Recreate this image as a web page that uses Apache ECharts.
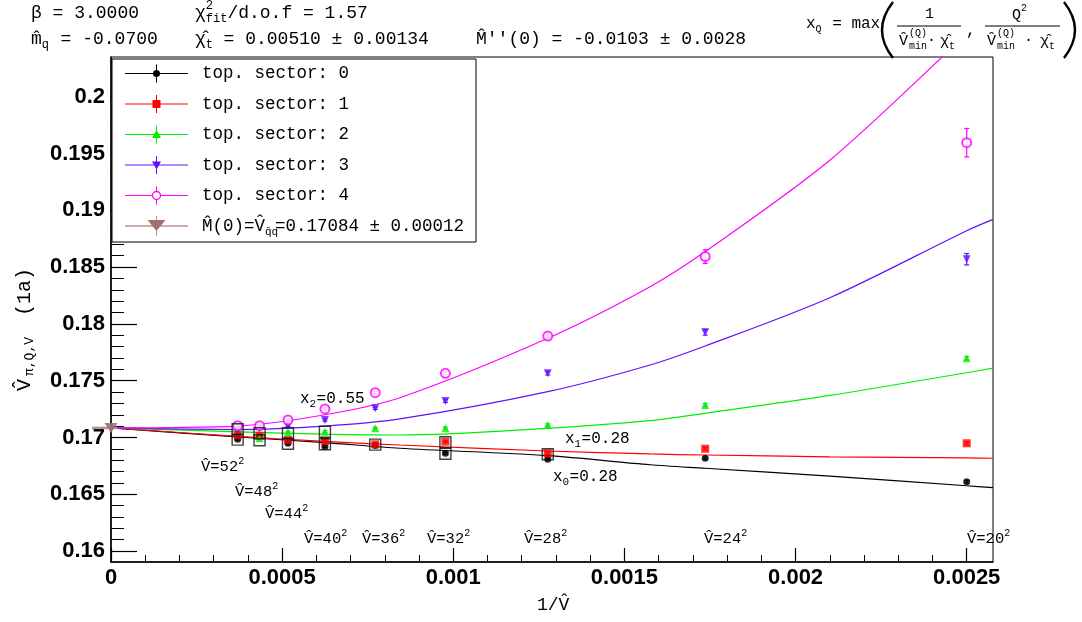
<!DOCTYPE html>
<html>
<head>
<meta charset="utf-8">
<script src="https://cdn.jsdelivr.net/npm/echarts@6/dist/echarts.min.js"></script>
<style>
  html, body { margin: 0; padding: 0; background: #fff; }
  #chart { width: 1082px; height: 622px; }
</style>
</head>
<body>
<div id="chart"></div>
<script>
// lattice volumes V = L^2 and the x positions 1/V
const volumes = [52, 48, 44, 40, 36, 32, 28, 24, 20]
const invV = [0.000370, 0.000434, 0.000517, 0.000625, 0.000772, 0.000977, 0.001276, 0.001736, 0.0025]

// measured points per topological sector
const sector0 = [0.16984, 0.17007, 0.16949, 0.16919, 0.16930, 0.16861, 0.16808, 0.16817, 0.16611]
const sector1 = [0.17022, 0.17016, 0.16978, 0.16969, 0.16940, 0.16963, 0.16861, 0.16901, 0.16949]
const sector2 = [0.17090, 0.16993, 0.17046, 0.17051, 0.17081, 0.17081, 0.17110, 0.17286, 0.17697]
const sector3 = [0.17066, 0.17081, 0.17104, 0.17154, 0.17257, 0.17321, 0.17565, 0.17926, 0.18569]
const sector4 = [0.17104, 0.17104, 0.17154, 0.17251, 0.17394, 0.17565, 0.17893, 0.18592, 0.19595]

const err0 = [0.00008, 0.00008, 0.00008, 0.00008, 0.00008, 0.00008, 0.0001, 0.0001, 0.00012]
const err1 = [0.00008, 0.00008, 0.00008, 0.00008, 0.00008, 0.00008, 0.0001, 0.0001, 0.00012]
const err2 = [0.00008, 0.00008, 0.00008, 0.00008, 0.00008, 0.0001, 0.0001, 0.00012, 0.00015]
const err3 = [0.00008, 0.00008, 0.00008, 0.0001, 0.0001, 0.00012, 0.00015, 0.00025, 0.0005]
const err4 = [0.0001, 0.0001, 0.0001, 0.0001, 0.00012, 0.00015, 0.0002, 0.0006, 0.00125]

// infinite volume extrapolation M(0)
const m0 = 0.17084
const m0Err = 0.00012

// fit curves read along x
const fitX = [0, 0.00037, 0.000625, 0.000844, 0.001276, 0.001575, 0.001736, 0.0021, 0.0025, 0.002577]
const fit0 = [0.17084, 0.17005, 0.16955, 0.16905, 0.16840, 0.16760, 0.16729, 0.16660, 0.16575, 0.16558]
const fit1 = [0.17084, 0.17010, 0.16965, 0.16934, 0.16881, 0.16855, 0.16846, 0.16830, 0.16820, 0.16817]
const fit2 = [0.17084, 0.17050, 0.17030, 0.17022, 0.17081, 0.17148, 0.17213, 0.17370, 0.17570, 0.17610]
const fit3 = [0.17084, 0.17070, 0.17100, 0.17163, 0.17403, 0.17638, 0.17805, 0.18230, 0.18820, 0.18920]
const fit4 = [0.17084, 0.17100, 0.17200, 0.17350, 0.17873, 0.18327, 0.18636, 0.19440, 0.20550, 0.20750]

// points used in the fits (black boxes)
const boxX = [0.00037, 0.00037, 0.000434, 0.000434, 0.000517, 0.000517, 0.000625, 0.000625, 0.000772, 0.000977, 0.000977, 0.001276]
const boxY = [0.17073, 0.16981, 0.17037, 0.16975, 0.17037, 0.16945, 0.17050, 0.16940, 0.16937, 0.16958, 0.16857, 0.16852]

const xTicks = [0, 0.0005, 0.001, 0.0015, 0.002, 0.0025]
const yTicks = [0.16, 0.165, 0.17, 0.175, 0.18, 0.185, 0.19, 0.195, 0.2]
const xMinor = []
for (let k = 1; k <= 25; k++) xMinor.push(+(k * 0.0001).toFixed(4))
const yMinor = []
for (let k = 160; k <= 203; k++) yMinor.push(k / 1000)

const C0 = '#000000', C1 = '#ff0000', C2 = '#00ee00', C3 = '#6010ff', C4 = '#ff00ff', CB = '#a07070'
const MONO = '"Liberation Mono", "DejaVu Sans Mono", monospace'
const SANS = '"Liberation Sans", Arial, sans-serif'

// text pieces laid out one after the other (monospace advance)
function runs (x, y, parts) {
  const out = []
  let cx = x
  parts.forEach(p => {
    const [t, size, dy = 0, adv] = p
    out.push({
      type: 'text', x: cx, y: y + dy, z: 100,
      style: { text: t, fontFamily: MONO, fontSize: size, fill: '#000', verticalAlign: 'middle' }
    })
    const n = t.replace(/[\u0300-\u036f]/g, '').length
    cx += n * (adv === undefined ? size * 0.6 : adv)
  })
  return out
}

function hline (x1, x2, y, color, w) {
  return { type: 'line', z: 100, shape: { x1, y1: y, x2, y2: y }, style: { stroke: color, lineWidth: w || 1 } }
}
function vline (x, y1, y2, color, w) {
  return { type: 'line', z: 100, shape: { x1: x, y1, x2: x, y2 }, style: { stroke: color, lineWidth: w || 1 } }
}
function paren (x, dir) {
  // big bracket of the max( , ) formula
  return {
    type: 'bezierCurve', z: 100,
    shape: { x1: x, y1: 2, x2: x, y2: 58, cpx1: x - dir * 22, cpy1: 30 },
    style: { stroke: '#000', lineWidth: 2.4, fill: null }
  }
}

// legend drawn by hand, ROOT style
const legRows = [73.5, 104, 134.5, 165, 195.5, 226]
const legX1 = 125, legX2 = 188, legM = 156.5
function legMarker (kind, cy, color) {
  const cx = legM
  if (kind === 'circle') return { type: 'circle', z: 101, shape: { cx, cy, r: 3.5 }, style: { fill: color } }
  if (kind === 'rect') return { type: 'rect', z: 101, shape: { x: cx - 4, y: cy - 4, width: 8, height: 8 }, style: { fill: color } }
  if (kind === 'up') return { type: 'polygon', z: 101, shape: { points: [[cx, cy - 4.5], [cx - 4.5, cy + 3.5], [cx + 4.5, cy + 3.5]] }, style: { fill: color } }
  if (kind === 'down') return { type: 'polygon', z: 101, shape: { points: [[cx - 4.5, cy - 3.5], [cx + 4.5, cy - 3.5], [cx, cy + 4.5]] }, style: { fill: color } }
  if (kind === 'open') return { type: 'circle', z: 101, shape: { cx, cy, r: 4 }, style: { fill: '#fff', stroke: color, lineWidth: 1.3 } }
  return { type: 'polygon', z: 101, shape: { points: [[cx - 9, cy - 6], [cx + 9, cy - 6], [cx, cy + 5]] }, style: { fill: CB } }
}
const legendEls = [{ type: 'rect', z: 99, shape: { x: 112, y: 59, width: 364, height: 183 }, style: { fill: '#fff', stroke: '#000', lineWidth: 1 } }]
const legDefs = [[C0, 'circle', '0'], [C1, 'rect', '1'], [C2, 'up', '2'], [C3, 'down', '3'], [C4, 'open', '4']]
legDefs.forEach((d, i) => {
  const y = legRows[i]
  legendEls.push(hline(legX1, legX2, y, d[0]), vline(legM, y - 9, y + 9, d[0]), legMarker(d[1], y, d[0]))
  legendEls.push(...runs(202, y, [['top. sector: ' + d[2], 17.5]]))
})
legendEls.push(hline(legX1, legX2, legRows[5], '#b89090', 1.5), vline(legM, legRows[5] - 10, legRows[5] + 10, '#b89090'), legMarker('brown', legRows[5]))
legendEls.push(...runs(202, legRows[5], [['M\u0302(0)=V\u0302', 17.5], ['q\u0304q', 11, 6, 5], ['=0.17084 \u00b1 0.00012', 17.5]]))

// header texts
const header = [
  ...runs(31, 13, [['\u03b2 = 3.0000', 18]]),
  ...runs(31, 39, [['m\u0302', 18], ['q', 12, 6, 8], [' = -0.0700', 18]]),
  ...runs(195, 13, [['\u03c7', 18], ['2', 12, -7, 0], ['fit', 12, 6, 7.2], ['/d.o.f = 1.57', 18]]),
  ...runs(195, 39, [['\u03c7\u0302', 18], ['t', 12, 6, 7], [' = 0.00510 \u00b1 0.00134', 18]]),
  ...runs(476, 39, [['M\u0302\'\'(0) = -0.0103 \u00b1 0.0028', 18]]),
  // x_Q = max( ... )
  ...runs(806, 24, [['x', 16], ['Q', 10, 5, 7], [' = max', 16]]),
  paren(893, 1),
  paren(1064, -1),
  hline(897, 961, 26, '#000', 1.2),
  ...runs(925, 14, [['1', 15]]),
  ...runs(899, 41, [['V\u0302', 15]]),
  ...runs(909, 33, [['(Q)', 10]]),
  ...runs(909, 46, [['min', 10]]),
  ...runs(927, 40, [['\u00b7', 15]]),
  ...runs(940, 41, [['\u03c7\u0302', 15], ['t', 10, 5]]),
  ...runs(966, 31, [[',', 16]]),
  hline(985, 1060, 26, '#000', 1.2),
  ...runs(1012, 15, [['Q', 15], ['2', 10, -7]]),
  ...runs(987, 41, [['V\u0302', 15]]),
  ...runs(997, 33, [['(Q)', 10]]),
  ...runs(997, 46, [['min', 10]]),
  ...runs(1024, 40, [['\u00b7', 15]]),
  ...runs(1040, 41, [['\u03c7\u0302', 15], ['t', 10, 5]])
]

// volume labels and x_Q annotations inside the plot
const volPos = [[201, 467], [235, 492], [265, 514], [304, 539], [362, 539], [427, 539], [524, 539], [704, 539], [967, 539]]
const volLabels = []
volumes.forEach((L, i) => {
  volLabels.push(...runs(volPos[i][0], volPos[i][1], [['V\u0302=' + L, 15.5], ['2', 10, -6]]))
})
const notes = [
  ...runs(300, 399, [['x', 16], ['2', 11, 5, 7], ['=0.55', 16]]),
  ...runs(565, 439, [['x', 16], ['1', 11, 5, 7], ['=0.28', 16]]),
  ...runs(553, 477, [['x', 16], ['0', 11, 5, 7], ['=0.28', 16]])
]

const axisTitles = [
  { type: 'group', x: 25, y: 391, rotation: Math.PI / 2, children: runs(0, 0, [['V\u0302', 20, 0, 15], ['\u03c0,Q,V', 13, 5, 12], ['(1a)', 20, 0, 14]]) },
  ...runs(537, 605, [['1/V\u0302', 18]])
]

function pts (ys) { return invV.map((x, i) => [x, ys[i]]) }
function curve (ys) { return fitX.map((x, i) => [x, ys[i]]) }

function errSeries (ys, es, color) {
  return {
    type: 'custom', silent: true, z: 3,
    encode: { x: 0, y: 1 },
    data: invV.map((x, i) => [x, ys[i], es[i]]),
    renderItem: (params, api) => {
      const x = api.value(0), y = api.value(1), e = api.value(2)
      const a = api.coord([x, y + e]), b = api.coord([x, y - e])
      const st = { stroke: color, lineWidth: 1.2 }
      return {
        type: 'group', children: [
          { type: 'line', shape: { x1: a[0], y1: a[1], x2: b[0], y2: b[1] }, style: st },
          { type: 'line', shape: { x1: a[0] - 2.5, y1: a[1], x2: a[0] + 2.5, y2: a[1] }, style: st },
          { type: 'line', shape: { x1: b[0] - 2.5, y1: b[1], x2: b[0] + 2.5, y2: b[1] }, style: st }
        ]
      }
    }
  }
}

function fitSeries (ys, color) {
  return {
    type: 'line', data: curve(ys), symbol: 'none', showSymbol: false,
    smooth: 0.3, silent: true, z: 2,
    lineStyle: { color, width: 1.2 }
  }
}

const chart = echarts.init(document.getElementById('chart'))
chart.setOption({
  animation: false,
  backgroundColor: '#fff',
  grid: { left: 111, right: 89, top: 57, bottom: 60, show: true, borderColor: '#000', borderWidth: 1 },
  xAxis: [
    {
      type: 'value', min: 0, max: 0.0025768,
      axisLine: { lineStyle: { color: '#000', width: 1.5 } },
      axisTick: { inside: true, length: 14, customValues: xTicks, lineStyle: { color: '#000', width: 1.2 } },
      axisLabel: { customValues: xTicks, color: '#000', fontFamily: SANS, fontWeight: 'bold', fontSize: 22, margin: 5 },
      splitLine: { show: false }
    },
    {
      type: 'value', min: 0, max: 0.0025768, position: 'bottom', offset: 0,
      axisLine: { show: false },
      axisTick: { inside: true, length: 7, customValues: xMinor, lineStyle: { color: '#000', width: 1 } },
      axisLabel: { show: false },
      splitLine: { show: false }
    }
  ],
  yAxis: [
    {
      type: 'value', min: 0.15904, max: 0.20349,
      axisLine: { lineStyle: { color: '#000', width: 1.5 } },
      axisTick: { inside: true, length: 26, customValues: yTicks, lineStyle: { color: '#000', width: 1.2 } },
      axisLabel: { customValues: yTicks, color: '#000', fontFamily: SANS, fontWeight: 'bold', fontSize: 22, margin: 6 },
      splitLine: { show: false }
    },
    {
      type: 'value', min: 0.15904, max: 0.20349, position: 'left', offset: 0,
      axisLine: { show: false },
      axisTick: { inside: true, length: 13, customValues: yMinor, lineStyle: { color: '#000', width: 1 } },
      axisLabel: { show: false },
      splitLine: { show: false }
    }
  ],
  series: [
    fitSeries(fit0, C0),
    fitSeries(fit1, C1),
    fitSeries(fit2, C2),
    fitSeries(fit3, C3),
    fitSeries(fit4, C4),
    errSeries(sector0, err0, C0),
    errSeries(sector1, err1, C1),
    errSeries(sector2, err2, C2),
    errSeries(sector3, err3, C3),
    errSeries(sector4, err4, C4),
    { type: 'scatter', data: pts(sector0), symbol: 'circle', symbolSize: 7, itemStyle: { color: C0 }, z: 4, silent: true },
    { type: 'scatter', data: pts(sector1), symbol: 'rect', symbolSize: 8, itemStyle: { color: C1 }, z: 4, silent: true },
    { type: 'scatter', data: pts(sector2), symbol: 'triangle', symbolSize: 8, itemStyle: { color: C2 }, z: 4, silent: true },
    { type: 'scatter', data: pts(sector3), symbol: 'triangle', symbolRotate: 180, symbolSize: 8, itemStyle: { color: C3 }, z: 4, silent: true },
    { type: 'scatter', data: pts(sector4), symbol: 'emptyCircle', symbolSize: 9, itemStyle: { color: C4, borderColor: C4, borderWidth: 1.3 }, z: 4, silent: true },
    {
      type: 'scatter', data: boxX.map((x, i) => [x, boxY[i]]), symbol: 'rect', symbolSize: [11, 11], z: 5, silent: true,
      itemStyle: { color: 'rgba(0,0,0,0)', borderColor: '#111', borderWidth: 1.4 }
    },
    {
      type: 'custom', silent: true, z: 6, encode: { x: 0, y: 1 },
      data: [[0, m0, m0Err]],
      renderItem: (params, api) => {
        const c = api.coord([api.value(0), api.value(1)])
        const a = api.coord([0, api.value(1) + api.value(2)]), b = api.coord([0, api.value(1) - api.value(2)])
        return {
          type: 'group', children: [
            { type: 'line', shape: { x1: c[0] - 19, y1: c[1], x2: c[0] + 6, y2: c[1] }, style: { stroke: '#b89098', lineWidth: 2.5 } },
            { type: 'line', shape: { x1: a[0], y1: a[1], x2: b[0], y2: b[1] }, style: { stroke: '#b89098', lineWidth: 1.5 } }
          ]
        }
      }
    },
    {
      type: 'scatter', data: [[0, m0]], symbol: 'triangle', symbolRotate: 180, symbolSize: [13, 10],
      itemStyle: { color: CB, opacity: 0.9 }, z: 7, clip: false, silent: true
    }
  ],
  graphic: [...legendEls, ...header, ...volLabels, ...notes, ...axisTitles]
})
</script>
</body>
</html>
